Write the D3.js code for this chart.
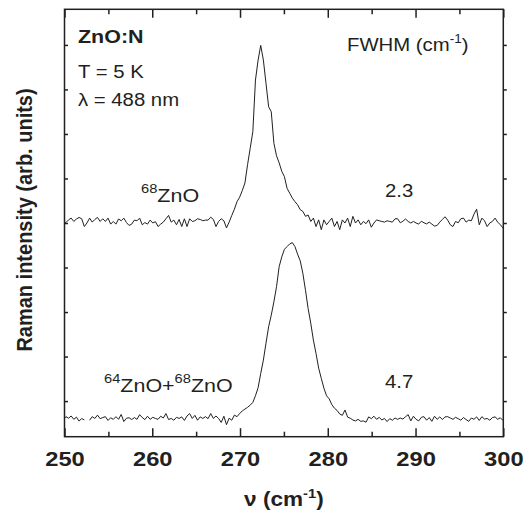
<!DOCTYPE html>
<html>
<head>
<meta charset="utf-8">
<script src="https://cdn.jsdelivr.net/npm/d3@7"></script>
<style>
  body { margin: 0; background: #fff; }
  svg { display: block; }
  text { font-family: "Liberation Sans", Arial, Helvetica, sans-serif; fill: #231f20; }
</style>
</head>
<body>
<svg id="raman-chart"></svg>
<script>
// wavenumber grid of the recorded spectra (cm-1)
const waveStart = 249.86;
const waveStep = 0.3;

const xMajorTicks = [250, 260, 270, 280, 290, 300];
const xMinorTicks = [255, 265, 275, 285, 295];
const yTickValues = [0, 10, 20, 30, 40, 50, 60, 70, 80];

const sampleNames = ["68ZnO", "64ZnO+68ZnO"];
const sampleOffsets = [40.5, -4.0];
const fwhmValues = ["2.3", "4.7"];

// 68ZnO spectrum, intensity above its own baseline
const zno68 = [
  -0.5, -0.4, 0.2, 0.6, -0.15, 0.4, 0.75, 0.45, -1.3, -0.5,
  0.6, -0.3, 0.3, 0.75, -0.15, 0.45, -0.15, 0.6, -0.75, -0.15,
  -0.75, 0.4, 0, 0.6, -0.4, -1.05, -0.75, 0.15, 0, 0.6,
  -0.9, -0.4, -0.75, 0.15, -0.5, -0.2, -1.3, -0.75, -0.3, 0.45,
  1.2, -0.3, 0.15, -0.9, 0.3, -1.3, 0.45, -1.3, 0.45, -0.15,
  0, 0.45, 0.3, 0, 0.15, 0.15, 0.8, 0.3, -1.3, -0.15,
  0.45, 0, -1.6, -0.3, 1.2, 2.6, 4.3, 5.3, 6.8, 8.5,
  12.6, 16.3, 20.0, 31.6, 36.1, 39.4, 36.1, 30.9, 25.6, 24.5,
  17.4, 14.6, 13.0, 11.1, 9.9, 7.3, 6.2, 5.1, 4.3, 3.6,
  2.5, 2.1, 1.0, 1.3, -0.15, 0.6, -1.3, 0.2, -2.0, 0.2,
  -0.9, -0.15, 0.6, -1.3, -0.15, -2.0, 0.2, -0.5, 0.6, -1.3,
  1.0, -0.5, 0.2, -0.9, -0.15, -0.65, 0.2, -1.45, -0.5, 0.2,
  0, -0.15, -0.3, 0, -0.15, -0.3, 0.45, 0.45, -0.45, -0.1,
  0.4, -0.15, -0.5, -0.15, -0.5, -0.75, -0.1, -0.45, -0.7, -0.3,
  -0.75, -1.2, -1.05, -0.3, 0.3, 0.9, 0.15, -0.9, -1.3, -0.15,
  -0.45, 0.45, 0.6, -0.3, 0.15, 0, 1.5, 2.6, -0.9, 0.6,
  0, -1.3, -0.5, -0.15, 0.6, -0.3, -0.9, -1.6, -1.0
];

// 64ZnO+68ZnO spectrum (one missing point near 252.6 cm-1)
const zno64and68 = [
  -0.2, 0.5, 0.15, 0.65, -0.1, 0.4, -0.5, 0.1, -0.25, null,
  -0.3, 0.5, 0.1, 0.85, 0.05, 0.3, 0.5, -0.35, 0.25, -0.1,
  0.5, -0.1, 1.0, -0.6, 0.15, 0.25, -0.15, 0.3, -0.1, 0.95,
  0.3, -0.15, 0.6, -0.1, 0.35, 0.1, -0.1, 0.6, 0.2, 1.2,
  -0.15, 0.1, -0.3, 0.35, 0.1, 0.45, -0.35, 0.65, 1.2, 0.1,
  0.8, -0.3, 0.45, 0.1, 0.5, 0.05, 1.2, 0.1, 0.65, 0.1,
  -0.8, 0.6, -1.3, 0.15, -0.3, 0.85, 0.5, 1.2, 1.8, 2.2,
  2.6, 3.1, 3.7, 5.2, 7.0, 10.2, 13.2, 17.0, 20.7, 23.3,
  26.3, 29.7, 34.2, 36.4, 38.1, 38.7, 39.3, 39.6, 38.7, 37.0,
  35.5, 32.7, 28.9, 24.8, 21.5, 17.7, 14.7, 11.4, 9.1, 6.9,
  5.2, 4.5, 3.2, 2.4, 1.9, 1.1, 0.8, 2.0, 0.4, 0.15,
  -0.25, -0.45, -0.1, -0.55, -0.45, -0.75, 0.45, 0.05, 0.6, -0.1,
  0.35, -0.25, 0.1, -0.6, 0.05, -0.3, 0.2, -0.1, 0.2, -0.05,
  0.5, 0.95, -0.45, 0.6, -0.1, -0.45, 0.35, 0.5, -0.3, 0.3,
  -0.55, 0.6, -0.1, 0.45, -0.15, 0.45, 0.5, 0.2, -0.1, 0.35,
  0.05, -0.3, 0.3, -0.15, -0.55, 0.2, -0.1, 0.45, -0.35, 0.5,
  -0.05, 0.1, -0.3, 0.3, 0.45, -0.1, 0.25, -0.35, 0
];

const spectra = [zno68, zno64and68];

const width = 525, height = 520;
const margin = { top: 9.3, right: 21.7, bottom: 83.3, left: 64.5 };
const ink = "#231f20";
const stretch = 1.13; // the original lettering is slightly wide

const svg = d3.select("#raman-chart")
    .attr("width", width)
    .attr("height", height);

const x = d3.scaleLinear()
    .domain([250, 300])
    .range([margin.left, width - margin.right]);

const y = d3.scaleLinear()
    .domain([-8, 88])
    .range([height - margin.bottom, margin.top]);

svg.append("clipPath")
    .attr("id", "plot-clip")
    .append("rect")
    .attr("x", margin.left)
    .attr("y", margin.top)
    .attr("width", x.range()[1] - x.range()[0])
    .attr("height", y.range()[0] - y.range()[1]);

// spectra
const line = d3.line()
    .defined(d => d.v != null)
    .x(d => x(d.w))
    .y(d => y(d.v));

spectra.forEach((s, k) => {
    const pts = s.map((v, i) => ({
        w: waveStart + i * waveStep,
        v: v == null ? null : v + sampleOffsets[k]
    }));
    svg.append("path")
        .datum(pts)
        .attr("clip-path", "url(#plot-clip)")
        .attr("fill", "none")
        .attr("stroke", ink)
        .attr("stroke-width", 1)
        .attr("stroke-linejoin", "round")
        .attr("d", line);
});

// axes: ticks inward on bottom/top/left, small outward ticks on the right
function styleAxis(g) {
    g.select(".domain").remove();
    g.selectAll("line").attr("stroke", ink).attr("stroke-width", 1.5);
}

const yBottom = y.range()[0], yTop = y.range()[1];

svg.append("g")
    .attr("transform", `translate(0,${yBottom})`)
    .call(d3.axisBottom(x).tickValues(xMajorTicks).tickSize(-8.5).tickPadding(14.5).tickFormat(d3.format("d")))
    .call(styleAxis)
    .call(g => g.selectAll("text")
        .style("font-size", "21px")
        .style("font-weight", "bold")
        .attr("fill", ink)
        .attr("transform", `scale(${stretch},1)`));

svg.append("g")
    .attr("transform", `translate(0,${yBottom})`)
    .call(d3.axisBottom(x).tickValues(xMinorTicks).tickSize(-5).tickFormat(""))
    .call(styleAxis);

svg.append("g")
    .attr("transform", `translate(0,${yTop})`)
    .call(d3.axisTop(x).tickValues(xMajorTicks).tickSize(-8.5).tickFormat(""))
    .call(styleAxis);

svg.append("g")
    .attr("transform", `translate(0,${yTop})`)
    .call(d3.axisTop(x).tickValues(xMinorTicks).tickSize(-5).tickFormat(""))
    .call(styleAxis);

svg.append("g")
    .attr("transform", `translate(${x.range()[0]},0)`)
    .call(d3.axisLeft(y).tickValues(yTickValues).tickSize(-3.5).tickFormat(""))
    .call(styleAxis);

svg.append("g")
    .attr("transform", `translate(${x.range()[1]},0)`)
    .call(d3.axisRight(y).tickValues(yTickValues).tickSize(3.5).tickFormat(""))
    .call(styleAxis);

svg.append("rect")
    .attr("x", x.range()[0])
    .attr("y", yTop)
    .attr("width", x.range()[1] - x.range()[0])
    .attr("height", yBottom - yTop)
    .attr("fill", "none")
    .attr("stroke", ink)
    .attr("stroke-width", 1.5);

// text placed at (px, py) and widened horizontally
function label(px, py, size, bold) {
    return svg.append("text")
        .attr("transform", `translate(${px},${py}) scale(${stretch},1)`)
        .style("font-size", size + "px")
        .style("font-weight", bold ? "bold" : "normal");
}

// axis titles
const xTitle = label((x.range()[0] + x.range()[1]) / 2, 506, 20, true)
    .attr("text-anchor", "middle");
xTitle.append("tspan").text("\u03bd (cm");
xTitle.append("tspan").attr("dy", -8).style("font-size", "13px").text("-1");
xTitle.append("tspan").attr("dy", 8).text(")");

svg.append("text")
    .attr("transform", `translate(32,${(yTop + yBottom) / 2 - 3}) scale(${stretch},1) rotate(-90)`)
    .attr("text-anchor", "middle")
    .style("font-size", "20px")
    .style("font-weight", "bold")
    .text("Raman intensity (arb. units)");

// annotations
label(78, 43, 19, true).text("ZnO:N");
label(78, 78, 18, false).text("T = 5 K");
label(78, 106, 18, false).text("\u03bb = 488 nm");

const fw = label(347, 51, 18, false);
fw.append("tspan").text("FWHM (cm");
fw.append("tspan").attr("dy", -8).style("font-size", "12px").text("-1");
fw.append("tspan").attr("dy", 8).text(")");

// sample labels with isotope superscripts
function isotopeLabel(parent, str) {
    const parts = str.split("+");
    parts.forEach((p, j) => {
        const m = p.match(/^(\d+)(.*)$/);
        parent.append("tspan").attr("dy", -9).style("font-size", "13px").text(m[1]);
        parent.append("tspan").attr("dy", 9).text(m[2] + (j < parts.length - 1 ? "+" : ""));
    });
}

const labelPos = [{ x: 141, y: 202 }, { x: 104, y: 392 }];
sampleNames.forEach((name, k) => {
    isotopeLabel(label(labelPos[k].x, labelPos[k].y, 19, false), name);
});

const fwhmY = [197, 388];
fwhmValues.forEach((v, k) => {
    label(385, fwhmY[k], 18, false).text(v);
});
</script>
</body>
</html>
